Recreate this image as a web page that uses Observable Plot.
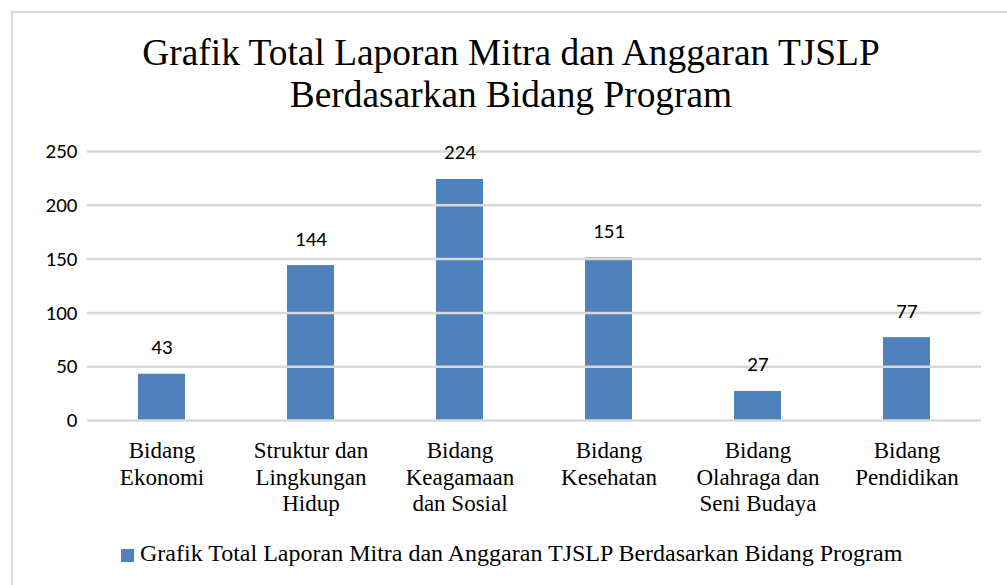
<!DOCTYPE html>
<html>
<head>
<meta charset="utf-8">
<script src="https://cdn.jsdelivr.net/npm/d3@7"></script>
<script src="https://cdn.jsdelivr.net/npm/@observablehq/plot@0.6"></script>
<style>
  html, body { margin: 0; padding: 0; background: #fff; width: 1007px; height: 585px; overflow: hidden; }
  #frame { position: absolute; left: 11px; top: 11px; width: 1100px; height: 700px;
           border-top: 2px solid #d9d9d9; border-left: 2px solid #d9d9d9; box-sizing: border-box; }
  #title { position: absolute; left: 0; top: 32px; width: 1022px; text-align: center;
           font-family: "Liberation Serif", "Times New Roman", serif; font-size: 37.4px; line-height: 42px; color: #000; }
  #chart { position: absolute; left: 0; top: 130px; }
  #legsq { position: absolute; left: 121px; top: 549px; width: 13px; height: 13px; background: #4f81bd; }
  #legtxt { position: absolute; left: 140px; top: 541px; white-space: nowrap;
            font-family: "Liberation Serif", "Times New Roman", serif; font-size: 24px; line-height: 24px; color: #000; }
</style>
</head>
<body>
<div id="frame"></div>
<div id="title">Grafik Total Laporan Mitra dan Anggaran TJSLP<br>Berdasarkan Bidang Program</div>
<div id="chart"></div>
<div id="legsq"></div>
<div id="legtxt"></div>
<script>
const categories = [
  "Bidang\nEkonomi",
  "Struktur dan\nLingkungan\nHidup",
  "Bidang\nKeagamaan\ndan Sosial",
  "Bidang\nKesehatan",
  "Bidang\nOlahraga dan\nSeni Budaya",
  "Bidang\nPendidikan"
];
const values = [43, 144, 224, 151, 27, 77];
const yTicks = [0, 50, 100, 150, 200, 250];
const seriesName = "Grafik Total Laporan Mitra dan Anggaran TJSLP Berdasarkan Bidang Program";

const data = categories.map((c, i) => ({cat: c, value: values[i]}));
const numFont = "Carlito, Calibri, 'Liberation Sans', sans-serif";
const serifFont = "'Liberation Serif', 'Times New Roman', serif";

const chart = Plot.plot({
  width: 1007,
  height: 400,
  marginLeft: 87,
  marginRight: 26,
  marginTop: 21,
  marginBottom: 110,
  style: {background: "transparent", color: "#000", overflow: "visible"},
  x: {domain: categories, paddingInner: 0.685, paddingOuter: 0.3425, axis: null},
  y: {domain: [0, 250], axis: null},
  marks: [
    Plot.barY(data, {x: "cat", y: "value", fill: "#4f81bd"}),
    Plot.ruleY(yTicks, {stroke: "#d9d9d9", strokeWidth: 2.5}),
    Plot.axisY({ticks: yTicks, tickSize: 0, tickPadding: 10, fontSize: 21,
                fontFamily: numFont, label: null, fill: "#000"}),
    Plot.axisX({tickSize: 0, tickPadding: 18, fontSize: 23, lineHeight: 1.17,
                fontFamily: serifFont, label: null, fill: "#000"}),
    Plot.text(data, {x: "cat", y: "value", text: d => String(d.value), lineAnchor: "bottom", dy: -20,
                     fontSize: 21, fontFamily: numFont, fill: "#000"})
  ]
});
document.getElementById("chart").appendChild(chart);
document.getElementById("legtxt").textContent = seriesName;
</script>
</body>
</html>
